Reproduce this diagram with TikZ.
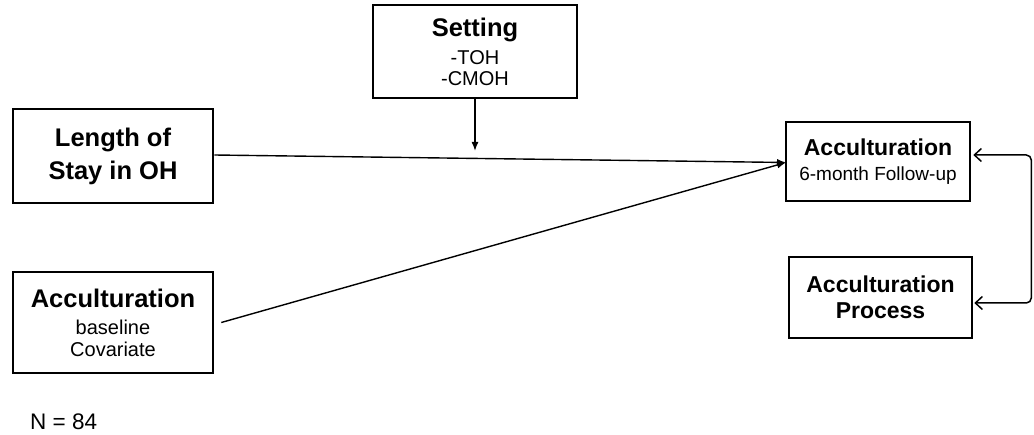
\documentclass[tikz,border=0pt]{standalone}
\usepackage{fontspec}
\setmainfont{Liberation Sans}
\usetikzlibrary{arrows.meta}
\newcommand\hdline[1]{{\fontsize{25.5}{30}\selectfont\bfseries #1}}
\newcommand\hdsmall[1]{{\fontsize{23}{28}\selectfont\bfseries #1}}
\tikzset{
  box/.style={draw, line width=2.6pt, align=center, inner sep=0pt,
    font=\fontsize{20}{21}\selectfont},
  conn/.style={line width=1.4pt, -{Latex[length=9pt,width=7pt]}},
  twoway/.style={line width=1.5pt, rounded corners=5pt,
    {Straight Barb[length=7pt,width=13pt]}-{Straight Barb[length=7pt,width=13pt]}},
}
\begin{document}
\begin{tikzpicture}[x=1pt,y=-1pt]
\useasboundingbox (0,0) rectangle (1034,435);

% boxes
\node[box, minimum width=204pt, minimum height=93pt] (setting) at (475,51.5)
  {\hdline{Setting}\\[7pt] -TOH\\ -CMOH};
\node[box, minimum width=200pt, minimum height=94pt] (length) at (113,156)
  {\hdline{Length of}\\[8pt] \hdline{Stay in OH}};
\node[box, minimum width=200pt, minimum height=101pt] (base) at (113,322.5)
  {\hdline{Acculturation}\\[6pt] baseline\\[1pt] Covariate};
\node[box, minimum width=184pt, minimum height=79pt] (follow) at (878,161.5)
  {\hdsmall{Acculturation}\\[4pt] {\fontsize{19}{21}\selectfont 6-month Follow-up}};
\node[box, minimum width=183pt, minimum height=81pt] (process) at (880.5,297.5)
  {\hdsmall{Acculturation}\\[5pt] \hdsmall{Process}};

\node[anchor=base west, inner sep=0pt, font=\fontsize{22.5}{27}\selectfont] (n) at (30,430) {N = 84};

% connectors
\coordinate (meet) at (475,151);
\coordinate (tgt) at (786,162.5);
\draw[conn] (setting.south) -- (meet);
\draw[conn] ([yshift=1pt]length.east) -- (tgt);
\draw[conn] ([xshift=7pt]base.east) -- (tgt);
\draw[twoway] ([shift={(2pt,6.5pt)}]follow.east) -- ++(58,0)
  |- ([shift={(1pt,-5.5pt)}]process.east);
\end{tikzpicture}
\end{document}
